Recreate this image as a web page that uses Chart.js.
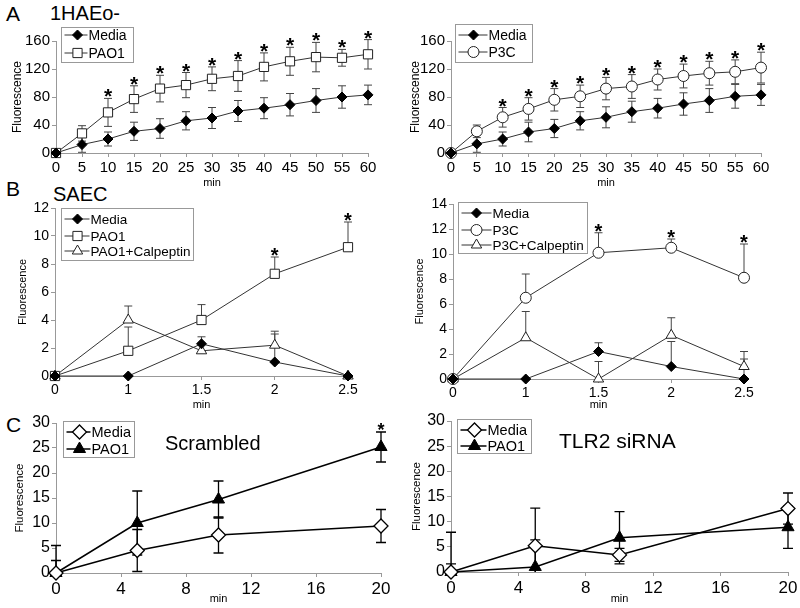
<!DOCTYPE html>
<html lang="en">
<head>
<meta charset="UTF-8" />
<title>Fluorescence time courses</title>
<script src="https://cdn.jsdelivr.net/npm/chart.js"></script>
<style>
  body { margin: 0; width: 800px; height: 608px; position: relative; background: #fff; overflow: hidden;
         font-family: "Liberation Sans", Arial, sans-serif; }
  .panel { position: absolute; }
  .lbl { position: absolute; color: #000; white-space: nowrap; line-height: 1; }
</style>
</head>
<body>
<div class="lbl" style="left:6px; top:3px; font-size:21px">A</div>
<div class="lbl" style="left:50px; top:3px; font-size:20px">1HAEo-</div>
<div class="lbl" style="left:6px; top:178px; font-size:21px">B</div>
<div class="lbl" style="left:53px; top:184px; font-size:20px">SAEC</div>
<div class="lbl" style="left:6px; top:414px; font-size:21px">C</div>

<script>
  // ---- data ----
  const timeA = ['0','5','10','15','20','25','30','35','40','45','50','55','60'];
  const mediaA1 = [0,12,20,31,35,46,50,60,64,69,75,80,83];
  const mediaA1Sd = [0,11,10,13,14,13,15,15,15,16,17,16,14];
  const pao1A1 = [0,28,58,77,92,97,106,110,123,131,137,136,141];
  const pao1A1Sd = [0,11,20,19,19,18,17,22,20,20,21,12,21];
  const starsA1 = [2,3,4,5,6,7,8,9,10,11,12];

  const mediaA2 = [0,13,20,30,35,46,51,59,64,70,75,81,83];
  const mediaA2Sd = [0,12,10,14,13,13,15,15,14,16,17,17,15];
  const p3cA2 = [0,31,51,63,76,81,92,95,105,110,114,116,122];
  const p3cA2Sd = [0,9,14,16,16,16,16,17,15,17,17,17,22];
  const starsA2 = [2,3,4,5,6,7,8,9,10,11,12];

  const timeB = ['0','1','1.5','2','2.5'];
  const mediaB1 = [0,0,2.3,1.0,0];
  const mediaB1Up = [0,0,0.5,2.0,0];
  const pao1B1 = [0,1.8,4.0,7.3,9.2];
  const pao1B1Up = [0,1.7,1.1,1.2,1.8];
  const calpB1 = [0,4.0,1.8,2.2,0];
  const calpB1Up = [0,1.0,0,1.0,0];
  const starsB1 = [3,4];

  const mediaB2 = [0,0,2.2,1.0,0];
  const mediaB2Up = [0,0,0.7,2.0,1.6];
  const p3cB2 = [0,6.5,10.1,10.5,8.1];
  const p3cB2Up = [0,1.9,1.6,0.7,2.7];
  const calpB2 = [0,3.3,0,3.5,1.0];
  const calpB2Up = [0,2.1,1.4,1.4,1.2];
  const starsB2 = [2,3,4];

  const timeC = [0,5,10,20];
  const mediaC1 = [0,4.5,7.6,9.4];
  const mediaC1Sd = [2.5,4.2,3.6,3.3];
  const pao1C1 = [0,10,14.7,25.2];
  const pao1C1Sd = [5.5,6.4,3.7,3.0];
  const starsC1 = [3];

  const mediaC2 = [0,5.2,3.4,12.6];
  const mediaC2Sd = [1.6,7.5,1.3,3.1];
  const pao1C2 = [0,1.0,6.8,8.9];
  const pao1C2Sd = [7.9,5.4,5.2,4.2];

  const FONT = "'Liberation Sans', Arial, sans-serif";

  // error bars, asterisks and the boxed legend
  const deco = {
    id: 'deco',
    beforeDatasetsDraw(chart, args, o) {
      const ctx = chart.ctx, ys = chart.scales.y;
      ctx.save();
      ctx.strokeStyle = o.errColor; ctx.lineWidth = o.errWidth;
      chart.data.datasets.forEach((ds, i) => {
        chart.getDatasetMeta(i).data.forEach((pt, j) => {
          const d = ds.data[j], v = typeof d === 'object' ? d.y : d;
          const up = ds.errPlus ? ds.errPlus[j] : 0, dn = ds.errMinus ? ds.errMinus[j] : 0;
          if (!up && !dn) return;
          const top = ys.getPixelForValue(v + up);
          const lo = Math.max(v - dn, ys.min), bot = ys.getPixelForValue(lo);
          ctx.beginPath();
          ctx.moveTo(pt.x, bot); ctx.lineTo(pt.x, top);
          if (up) { ctx.moveTo(pt.x - o.cap, top); ctx.lineTo(pt.x + o.cap, top); }
          if (dn && v - dn >= ys.min) { ctx.moveTo(pt.x - o.cap, bot); ctx.lineTo(pt.x + o.cap, bot); }
          ctx.stroke();
        });
      });
      ctx.restore();
    },
    afterDraw(chart, args, o) {
      const ctx = chart.ctx, ys = chart.scales.y;
      ctx.save();
      ctx.fillStyle = '#000';
      ctx.font = 'bold ' + o.starSize + 'px ' + FONT;
      ctx.textAlign = 'center'; ctx.textBaseline = 'alphabetic';
      chart.data.datasets.forEach((ds, i) => {
        const pts = chart.getDatasetMeta(i).data;
        (ds.stars || []).forEach(j => {
          const d = ds.data[j], v = typeof d === 'object' ? d.y : d;
          const up = ds.errPlus ? ds.errPlus[j] : 0;
          ctx.fillText('*', pts[j].x, ys.getPixelForValue(v + up) + o.starShift);
        });
      });
      const L = o.legend;
      const bx = L.x - o.box.x + 0.5, by = L.y - o.box.y + 0.5;
      ctx.fillStyle = '#fff'; ctx.fillRect(bx, by, L.w, L.h);
      ctx.strokeStyle = '#999'; ctx.lineWidth = 1; ctx.strokeRect(bx, by, L.w, L.h);
      chart.data.datasets.forEach((ds, i) => {
        const ry = L.rows[i] - o.box.y;
        ctx.strokeStyle = ds.borderColor; ctx.lineWidth = ds.borderWidth;
        ctx.beginPath(); ctx.moveTo(bx + 3, ry); ctx.lineTo(bx + L.textX - 1, ry); ctx.stroke();
        ctx.fillStyle = ds.pointBackgroundColor; ctx.strokeStyle = ds.pointBorderColor; ctx.lineWidth = ds.pointBorderWidth;
        Chart.helpers.drawPoint(ctx, { pointStyle: ds.pointStyle, radius: ds.pointRadius, rotation: 0,
                                       borderWidth: ds.pointBorderWidth }, bx + L.markX, ry);
        ctx.fillStyle = '#000'; ctx.font = L.font + 'px ' + FONT;
        ctx.textAlign = 'left'; ctx.textBaseline = 'middle';
        ctx.fillText(ds.label, bx + L.textX, ry + 1);
      });
      ctx.restore();
    }
  };
  Chart.register(deco);

  function series(label, data, sdUp, sdDown, stars, look) {
    return Object.assign({
      label, data, errPlus: sdUp, errMinus: sdDown, stars,
      borderColor: '#333', borderWidth: 1, tension: 0, clip: false,
      pointBorderWidth: 1, pointBorderColor: '#222', pointHoverRadius: 0
    }, look);
  }
  const diamondFill = { pointStyle: 'rectRot', pointRadius: 5, pointBackgroundColor: '#000', pointBorderColor: '#000' };
  const squareOpen = { pointStyle: 'rect', pointRadius: 6.5, pointBackgroundColor: '#fff' };
  const circleOpen = { pointStyle: 'circle', pointRadius: 5.5, pointBackgroundColor: '#fff' };
  const triOpen = { pointStyle: 'triangle', pointRadius: 6, pointBackgroundColor: '#fff' };
  const diamondOpenC = { pointStyle: 'rectRot', pointRadius: 7, pointBackgroundColor: '#fff', pointBorderColor: '#000',
                         borderColor: '#000', borderWidth: 1.5, pointBorderWidth: 1.3 };
  const triFillC = { pointStyle: 'triangle', pointRadius: 7, pointBackgroundColor: '#000', pointBorderColor: '#000',
                     borderColor: '#000', borderWidth: 1.5 };

  function panel(box, area, cfg) {
    const holder = document.createElement('div');
    holder.className = 'panel';
    holder.style.left = box.x + 'px'; holder.style.top = box.y + 'px';
    const cv = document.createElement('canvas');
    cv.width = box.w; cv.height = box.h;
    cv.style.width = box.w + 'px'; cv.style.height = box.h + 'px';
    holder.appendChild(cv);
    document.body.appendChild(holder);
    const grid = { drawOnChartArea: false, drawTicks: true, tickLength: 4, color: '#999' };
    const x = {
      type: cfg.xType, offset: false,
      ticks: { font: { size: cfg.xTick, family: FONT }, color: '#000', padding: 2, maxRotation: 0, autoSkip: false },
      grid, border: { color: '#999' },
      title: { display: true, text: 'min', font: { size: 11, family: FONT }, color: '#000', padding: { top: 0, bottom: cfg.minPad } },
      afterFit(s) { s.height = box.y + box.h - area.b; s.paddingLeft = 0; s.paddingRight = 0; }
    };
    if (cfg.xType === 'linear') { x.min = 0; x.max = 20; x.ticks.stepSize = 4; }
    return new Chart(cv, {
      type: 'line',
      data: { labels: cfg.labels, datasets: cfg.datasets },
      options: {
        responsive: false, animation: false, events: [],
        layout: { padding: { left: 0, top: area.t - box.y, right: box.x + box.w - area.r, bottom: 0 } },
        plugins: {
          legend: { display: false }, tooltip: { enabled: false },
          deco: Object.assign({ box }, cfg.deco)
        },
        scales: {
          x,
          y: {
            min: 0, max: cfg.yMax,
            ticks: { stepSize: cfg.yStep, font: { size: cfg.yTick, family: FONT }, color: '#000', padding: 2 },
            grid, border: { color: '#999' },
            title: { display: true, text: 'Fluorescence', font: { size: cfg.yTitle, family: FONT }, color: '#000',
                     padding: { top: cfg.yTitlePad, bottom: 0 } },
            afterFit(s) { s.width = area.l - box.x; s.paddingTop = 0; s.paddingBottom = 0; }
          }
        }
      }
    });
  }

  const decoA = { errColor: '#444', errWidth: 1, cap: 4, starSize: 21, starShift: 5 };
  const decoB = { errColor: '#444', errWidth: 1, cap: 4, starSize: 20, starShift: 5 };
  const decoC = { errColor: '#000', errWidth: 1.3, cap: 5, starSize: 18, starShift: 4 };

  // A left
  panel({ x: 0, y: 20, w: 400, h: 170 }, { l: 56, t: 41, r: 368, b: 153 }, {
    xType: 'category', labels: timeA, yMax: 160, yStep: 40, xTick: 15, yTick: 15, yTitle: 12, yTitlePad: 10, minPad: 0,
    datasets: [
      series('Media', mediaA1, mediaA1Sd, mediaA1Sd, [], diamondFill),
      series('PAO1', pao1A1, pao1A1Sd, pao1A1Sd, starsA1, squareOpen)
    ],
    deco: Object.assign({ legend: { x: 61, y: 27, w: 72, h: 35, rows: [35, 53], markX: 16, textX: 27, font: 14 } }, decoA)
  });
  // A right
  panel({ x: 400, y: 20, w: 400, h: 170 }, { l: 451, t: 41, r: 761, b: 153 }, {
    xType: 'category', labels: timeA, yMax: 160, yStep: 40, xTick: 15, yTick: 15, yTitle: 12, yTitlePad: 8, minPad: 0,
    datasets: [
      series('Media', mediaA2, mediaA2Sd, mediaA2Sd, [], diamondFill),
      series('P3C', p3cA2, p3cA2Sd, p3cA2Sd, starsA2, circleOpen)
    ],
    deco: Object.assign({ legend: { x: 455, y: 24, w: 77, h: 38, rows: [35, 52], markX: 18, textX: 33, font: 14 } }, decoA)
  });
  // B left
  panel({ x: 0, y: 186, w: 400, h: 226 }, { l: 55, t: 208, r: 348, b: 376 }, {
    xType: 'category', labels: timeB, yMax: 12, yStep: 2, xTick: 14, yTick: 14, yTitle: 11, yTitlePad: 16, minPad: 0,
    datasets: [
      series('Media', mediaB1, mediaB1Up, null, [], diamondFill),
      series('PAO1', pao1B1, pao1B1Up, null, starsB1, squareOpen),
      series('PAO1+Calpeptin', calpB1, calpB1Up, null, [], triOpen)
    ],
    deco: Object.assign({ legend: { x: 61, y: 208, w: 132, h: 52, rows: [219, 236, 251], markX: 16, textX: 29, font: 13.5 } }, decoB)
  });
  // B right
  panel({ x: 400, y: 186, w: 400, h: 226 }, { l: 453, t: 204, r: 744, b: 379 }, {
    xType: 'category', labels: timeB, yMax: 14, yStep: 2, xTick: 14, yTick: 14, yTitle: 11, yTitlePad: 13, minPad: 0,
    datasets: [
      series('Media', mediaB2, mediaB2Up, null, [], diamondFill),
      series('P3C', p3cB2, p3cB2Up, null, starsB2, circleOpen),
      series('P3C+Calpeptin', calpB2, calpB2Up, null, [], triOpen)
    ],
    deco: Object.assign({ legend: { x: 458, y: 202, w: 129, h: 51, rows: [213, 230, 245], markX: 18, textX: 34, font: 13.5 } }, decoB)
  });
  // C left
  panel({ x: 0, y: 410, w: 400, h: 198 }, { l: 56, t: 423, r: 381, b: 573 }, {
    xType: 'linear', labels: undefined, yMax: 30, yStep: 5, xTick: 17, yTick: 16, yTitle: 11.5, yTitlePad: 13, minPad: 2,
    datasets: [
      series('Media', timeC.map((t, i) => ({ x: t, y: mediaC1[i] })), mediaC1Sd, mediaC1Sd, [], diamondOpenC),
      series('PAO1', timeC.map((t, i) => ({ x: t, y: pao1C1[i] })), pao1C1Sd, pao1C1Sd, starsC1, triFillC)
    ],
    deco: Object.assign({ legend: { x: 63, y: 421, w: 71, h: 36, rows: [432, 449], markX: 16, textX: 28, font: 14.5 } }, decoC)
  });
  // C right
  panel({ x: 400, y: 410, w: 400, h: 198 }, { l: 451, t: 421, r: 788, b: 572 }, {
    xType: 'linear', labels: undefined, yMax: 30, yStep: 5, xTick: 17, yTick: 16, yTitle: 11.5, yTitlePad: 10, minPad: 2,
    datasets: [
      series('Media', timeC.map((t, i) => ({ x: t, y: mediaC2[i] })), mediaC2Sd, mediaC2Sd, [], diamondOpenC),
      series('PAO1', timeC.map((t, i) => ({ x: t, y: pao1C2[i] })), pao1C2Sd, pao1C2Sd, [], triFillC)
    ],
    deco: Object.assign({ legend: { x: 457, y: 419, w: 74, h: 34, rows: [430, 446], markX: 17, textX: 30, font: 14.5 } }, decoC)
  });
</script>
<div class="lbl" style="left:165px; top:433px; font-size:20px">Scrambled</div>
<div class="lbl" style="left:559px; top:430px; font-size:21px">TLR2 siRNA</div>
</body>
</html>
